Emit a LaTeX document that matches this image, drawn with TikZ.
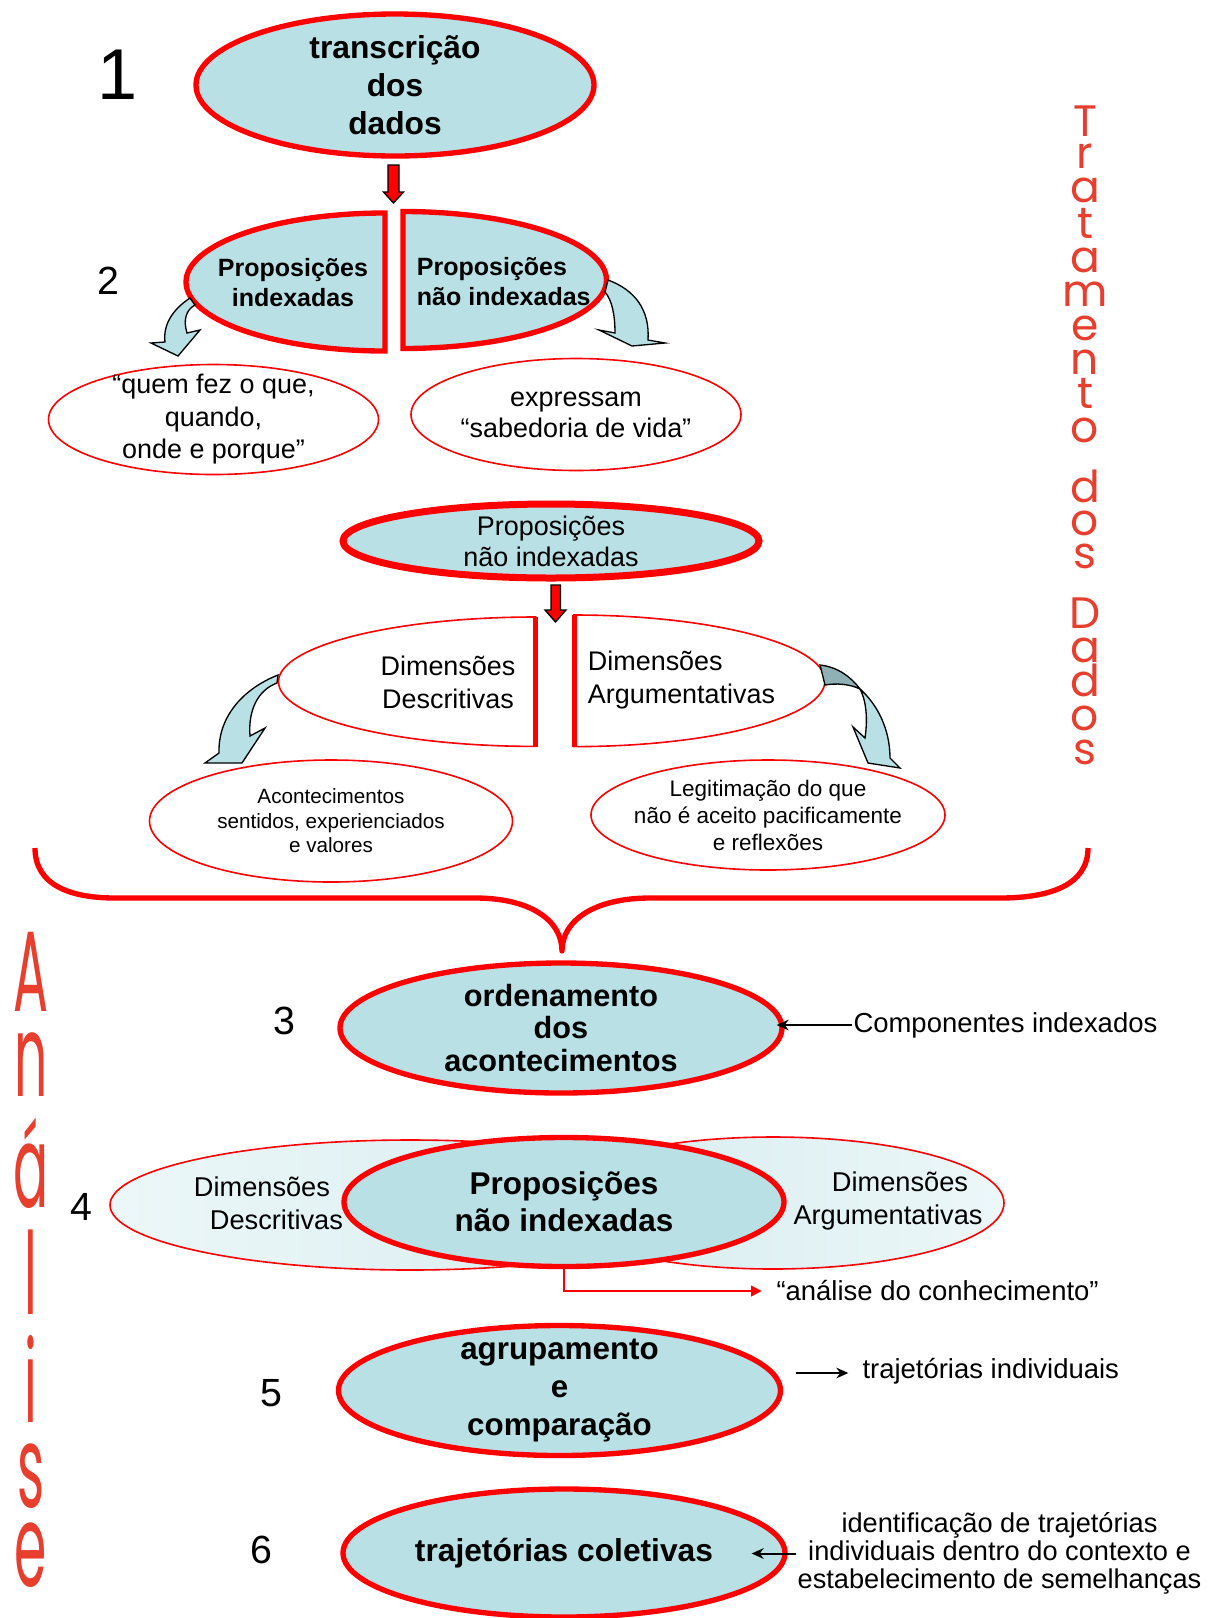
\documentclass[tikz,border=0pt]{standalone}
\usepackage{fontspec}
\usepackage{graphicx}
\setmainfont{Liberation Sans}
\newfontfamily\gothicfont{Poppins}
\usetikzlibrary{shapes.geometric,arrows.meta}

\definecolor{blobfill}{RGB}{185,224,228}
\definecolor{paleA}{RGB}{236,247,248}
\definecolor{paleB}{RGB}{214,236,239}
\definecolor{twistblue}{RGB}{143,176,180}
\definecolor{pptred}{RGB}{255,0,0}
\definecolor{titlered}{RGB}{232,62,46}

\tikzset{every picture/.style={line width=0.75pt}}
\tikzset{
  blob/.style 2 args={ellipse, draw=pptred, line width=4pt, fill=blobfill,
    minimum width=#1*1.5pt, minimum height=#2*1.5pt, inner sep=-40pt, align=center},
  bubble/.style 2 args={ellipse, draw=pptred, line width=1.2pt, fill=white,
    minimum width=#1*1.5pt, minimum height=#2*1.5pt, inner sep=-40pt, align=center},
  halfblob/.style={draw=pptred, line width=4pt, fill=blobfill},
  halfbubble/.style={draw=pptred, line width=1.2pt, fill=white},
  cutline/.style={draw=pptred, line width=3.75pt},
  flowarrow/.style={draw=black, line width=1pt, fill=blobfill},
  redblock/.style={draw=black, line width=1pt, fill=pptred},
  conn/.style={black, line width=1.5pt, -{Stealth[length=9pt,width=8pt]}},
  redconn/.style={pptred, line width=1.5pt, -{Triangle[length=8pt,width=8pt]}},
  stepno/.style={font=\fontsize{29.5}{30}\selectfont},
  note/.style={inner sep=0.75pt, font=\fontsize{20.6}{21}\selectfont},
  gothic/.style={inner sep=0pt, text=titlered, font=\gothicfont\fontsize{33}{33}\selectfont},
}

\begin{document}
\begin{tikzpicture}[x=0.75pt,y=0.75pt,yscale=-1,xscale=1]
\useasboundingbox (0,0) rectangle (1213,1618);

% Step numbers
\node[stepno, font=\fontsize{54}{54}\selectfont] (n1) at (118,75) {1};
\node[stepno] (n2) at (108,281) {2};
\node[stepno] (n3) at (284.5,1021) {3};
\node[stepno] (n4) at (81,1207) {4};
\node[stepno] (n5) at (271,1393.5) {5};
\node[stepno] (n6) at (261,1550) {6};

%Shape: Ellipse - transcricao
\node[blob={199}{71}, font=\bfseries\fontsize{23.8}{28.5}\selectfont] (e1) at (395,85) {transcrição\\dos\\dados};
%Shape: Down Arrow
\draw[redblock] (388,165) -- (399,165) -- (399,192) -- (403.5,192) -- (393.5,203) -- (383.5,192) -- (388,192) -- cycle;

%Shape: split ellipse (left and right halves)
\draw[halfblob] (385,213) arc[start angle=270, end angle=90, x radius=199, y radius=69] -- cycle;
\draw[halfblob] (403,211.5) arc[start angle=270, end angle=450, x radius=203.5, y radius=68.5] -- cycle;
% Text Node
\node[align=center, font=\bfseries\fontsize{18.75}{22.5}\selectfont] (propIdx) at (293,283) {Proposições\\indexadas};
% Text Node
\node[anchor=west, align=left, font=\bfseries\fontsize{18.75}{22.5}\selectfont] (propNaoIdx) at (412,282) {Proposições\\não indexadas};

%Curved arrows of step 2
\draw[flowarrow] (190,298) .. controls (172,310) and (163,325) .. (165,342) -- (151,343) -- (178,356) -- (200,330) -- (187,333) .. controls (183,320) and (186,310) .. (195,305) -- cycle;
\draw[flowarrow] (608,280) .. controls (635,290) and (650,310) .. (648,340) -- (665,343) -- (632,346) -- (599,330) -- (615,333) .. controls (615,315) and (612,300) .. (605,292) -- cycle;

\node[bubble={165}{55}, font=\fontsize{20.2}{24.4}\selectfont] (quem) at (213.5,419.5) {“quem fez o que,\\quando,\\onde e porque”};
\node[bubble={165}{56}, font=\fontsize{20.2}{23.3}\selectfont] (sabedoria) at (576,414.5) {expressam\\“sabedoria de vida”};

%Shape: Ellipse - proposicoes nao indexadas
\node[blob={208}{37}, line width=5.25pt, font=\fontsize{20.2}{23.3}\selectfont] (propMid) at (551,541) {Proposições\\não indexadas};
%Shape: Down Arrow
\draw[redblock] (551,585) -- (560.5,585) -- (560.5,610) -- (566,610) -- (555.5,622) -- (545,610) -- (551,610) -- cycle;

%Shape: split ellipse of the dimensions
\draw[halfbubble] (535.5,617) arc[start angle=270, end angle=90, x radius=257, y radius=64.7] -- cycle;
\draw[halfbubble] (574,615) arc[start angle=270, end angle=450, x radius=251, y radius=65.8] -- cycle;
\draw[cutline] (535.5,617) -- (535.5,746.5);
\draw[cutline] (574,615) -- (574,746.5);
% Text Node
\node[align=center, font=\fontsize{20.2}{24.75}\selectfont] (dimDesc) at (448,682.5) {Dimensões\\Descritivas};
% Text Node
\node[anchor=west, align=left, font=\fontsize{20.2}{24.75}\selectfont] (dimArg) at (583,680.5) {Dimensões\\Argumentativas};

%Curved arrows of the dimensions
\draw[flowarrow] (278,675) .. controls (245,688) and (218,715) .. (219,753) -- (205,763) -- (242,763) -- (265,728) -- (250,736) .. controls (248,710) and (258,690) .. (277,683) -- cycle;
\draw[draw=black, line width=1pt, fill=twistblue] (820,665) .. controls (838,667) and (851,677) .. (860,689) .. controls (850,684) and (836,683) .. (825,685) -- cycle;
\draw[flowarrow] (860,689) .. controls (878,705) and (890,730) .. (890,758) -- (900,768) -- (868,763) -- (853,727) -- (865,738) .. controls (868,718) and (866,700) .. (860,689) -- cycle;

\node[bubble={181.5}{61}, font=\fontsize{15.5}{18.4}\selectfont] (acont) at (331,821) {Acontecimentos\\sentidos, experienciados\\e valores};
\node[bubble={177}{55}, font=\fontsize{16.9}{20.3}\selectfont] (legit) at (768,815) {Legitimação do que\\não é aceito pacificamente\\e reflexões};

%Curve Lines - brace
\draw[pptred, line width=4pt, line join=round] (35,848) .. controls (35,885) and (70,898) .. (115,898) -- (475,898) .. controls (530,898) and (562,920) .. (562,951) .. controls (562,920) and (595,898) .. (650,898) -- (1000,898) .. controls (1050,898) and (1088,885) .. (1088,848);

%Shape: Ellipse - ordenamento
\node[blob={221}{65}, font=\bfseries\fontsize{23}{24.4}\selectfont] (e3) at (561,1028) {ordenamento\\dos\\acontecimentos};
\node[note, anchor=west] (compLbl) at (852,1025) {Componentes indexados};
\draw[conn, shorten >=-6pt] (compLbl.west) -- (compLbl.west -| e3.east);

%Shape: Ellipses of step 4
\node[ellipse, draw=pptred, line width=1.2pt, left color=paleA, right color=paleB, minimum width=450pt, minimum height=97.5pt] (dimL) at (410,1205) {};
\node[ellipse, draw=pptred, line width=1.2pt, left color=paleB, right color=paleA, minimum width=346.5pt, minimum height=99pt] (dimR) at (773,1203) {};
\node[blob={220}{64.5}, font=\bfseries\fontsize{23.6}{27.75}\selectfont] (e4) at (564,1202) {Proposições\\não indexadas};
% Text Node
\node[anchor=west, align=left, font=\fontsize{20.4}{24.75}\selectfont] (dimLtxt) at (189,1203) {Dimensões\\\hspace*{12pt}Descritivas};
% Text Node
\node[align=center, font=\fontsize{20.4}{24.75}\selectfont] (dimRtxt) at (894,1201) {\hspace*{9pt}Dimensões\\Argumentativas\hspace*{9pt}};

\node[note, anchor=west] (analLbl) at (775,1291) {“análise do conhecimento”};
\draw[redconn, shorten >=10pt] (e4.south) |- (analLbl.west);

%Shape: Ellipse - agrupamento
\node[blob={221}{65}, font=\bfseries\fontsize{23.5}{28.5}\selectfont] (e5) at (559.5,1390.5) {agrupamento\\e\\comparação};
\node[note, anchor=west] (indivLbl) at (861,1371) {trajetórias individuais};
\coordinate (from5) at (796,1373);
\draw[conn, shorten >=9.5pt] (from5) -- (from5 -| indivLbl.west);

%Shape: Ellipse - trajetorias coletivas
\node[blob={221}{64}, font=\bfseries\fontsize{23.8}{28}\selectfont] (e6) at (564,1553) {trajetórias coletivas};
\node[align=center, inner sep=0.75pt, font=\fontsize{20.4}{20.85}\selectfont] (identLbl) at (999.5,1553.5) {identificação de trajetórias\\individuais dentro do contexto e\\estabelecimento de semelhanças};
\draw[conn, shorten >=-27pt] (identLbl.west) -- (identLbl.west -| e6.east);

% Vertical titles
\foreach \ch/\yb [count=\i] in {T/136, r/168, a/202, t/238, a/272, m/306, e/340, n/374, t/408, o/442, d/502, o/535, s/568, D/628, a/662, d/696, o/730, s/764}
  \node[gothic, anchor=base] (trat\i) at (1085,\yb) {\ch};
\foreach \ch/\yb [count=\i] in {A/1011, n/1096, á/1207, l/1314, i/1422, s/1507, e/1586}
  \node[gothic, anchor=base, font=\gothicfont\fontsize{39}{39}\selectfont] (anal\i) at (31,\yb) {\scalebox{1}[2.2]{\ch}};

\end{tikzpicture}
\end{document}
